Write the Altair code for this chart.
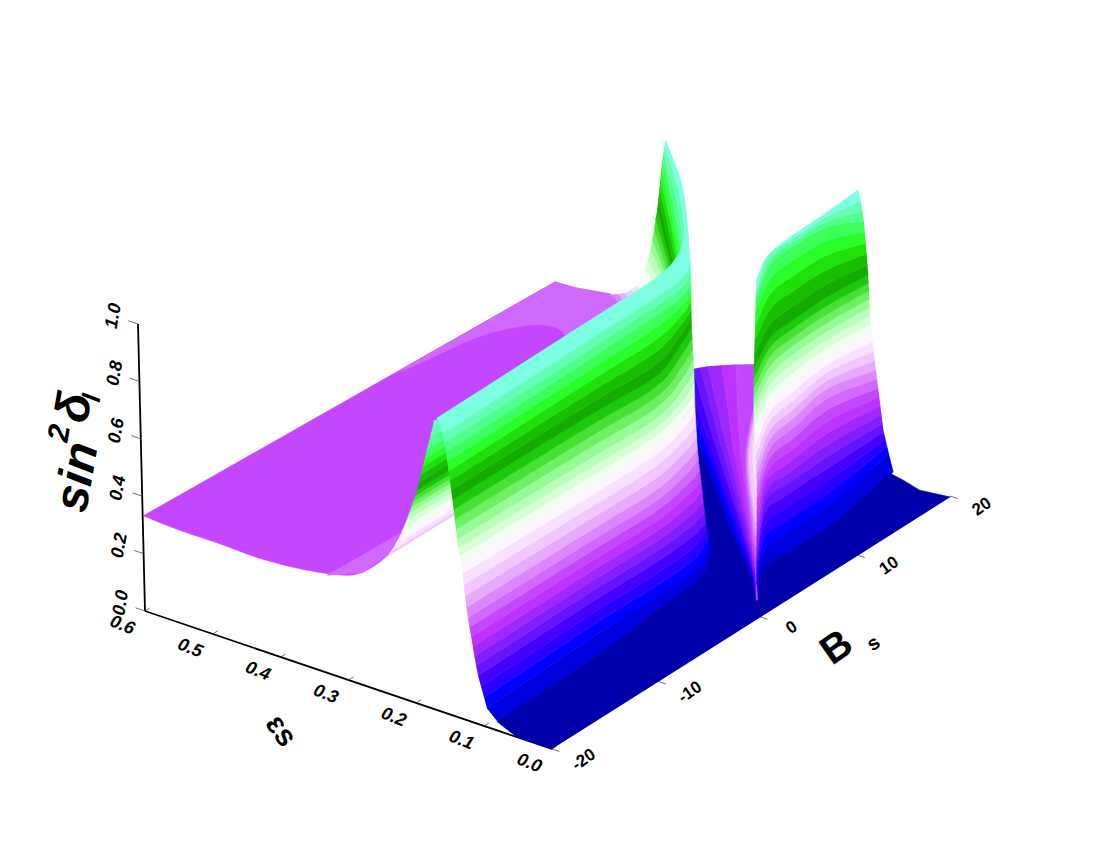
import altair as alt
import numpy as np
import pandas as pd

# ---- colour bands of the contour surface (31 levels from 0 to 1) ----
band_colors = ["#0000aa","#0000dc","#0000ff","#2800ff","#4600ff","#6414ff","#821eff","#a028ff","#be32ff","#c546ff",
 "#d069ff","#dc87ff","#e6aaff","#f0c8ff","#f8e1ff","#fff5ff","#f0fff0","#d7ffd7","#b9ffb9","#96fa96",
 "#6ef064","#46e132","#1ec80a","#14aa00","#19be00","#1ee10a","#28ff28","#3cff5a","#50ff8c","#64ffb4","#7dffe1"]
N = len(band_colors)

# ---- surface readings: sin^2 level, then B and epsilon along each contour ----
front_left_z = [0.03,0.06,0.17,0.37,0.5,0.6,0.75,0.9,0.97,1.0]
front_left_B = [[-20.0,-11.2,-4.1,1.0,3.8],[-20.0,-10.0,-3.7,0.5,3.6],[-19.8,-9.0,-2.8,1.0,2.9],[-19.9,-8.5,-2.2,1.6,3.6],
 [-19.3,-7.5,-1.1,2.5,4.3],[-19.8,-7.7,-1.4,2.4,5.0],[-19.7,-6.9,-0.8,3.7,5.6],[-19.8,-6.0,0.7,3.7,5.3],[-19.9,-5.9,0.7,3.6,5.6],[-19.5,-4.8,1.6,4.7,8.0]]
front_left_e = [[.080,.082,.094,.103,.127],[.095,.101,.100,.103,.126],[.113,.115,.113,.117,.122],[.126,.123,.121,.133,.143],
 [.143,.137,.137,.149,.157],[.141,.135,.132,.149,.168],[.150,.146,.141,.167,.180],[.157,.160,.162,.166,.176],[.160,.161,.162,.165,.181],[.175,.176,.176,.188,.218]]

front_right_z = [0.03,0.06,0.17,0.37,0.5,0.6,0.75,0.9,0.97,1.0]
front_right_B = [[19.6,11.4,6.3,4.1,1.6],[20.4,12.7,7.3,5.0,1.4],[19.4,13.7,9.3,6.3,0.7],[18.9,15.0,10.5,7.5,3.1],
 [18.8,14.5,10.3,7.3,3.3],[18.5,14.1,10.4,7.4,3.4],[17.8,13.8,10.0,7.4,3.6],[18.5,16.5,13.1,10.3,6.2],[18.6,15.6,11.9,8.8,5.2],[18.7,15.0,11.3,8.2,5.1]]
front_right_e = [[.078,.056,.057,.055,.026],[.095,.073,.071,.067,.025],[.090,.091,.089,.083,.015],[.093,.113,.100,.092,.049],
 [.098,.106,.098,.090,.055],[.097,.101,.099,.090,.058],[.090,.096,.094,.090,.060],[.105,.132,.136,.130,.094],[.111,.119,.119,.114,.079],[.116,.112,.110,.104,.078]]

valley_z = [1/31,4/31,7/31,9/31,10/31,13/31,16/31]
valley_B = [[21.7,14.6,8.0,3.5,0.7],[19.9,12.0,5.4,0.7,-2.2],[18.1,9.6,2.8,-2.0,-5.0],[17.3,8.1,1.0,-3.9,-6.9],
 [17.4,7.3,0.1,-4.8,-6.3],[14.5,4.5,-2.6,-6.4,-6.9],[11.5,1.9,-5.1,-8.0,-8.5]]
valley_e = [[.457,.296,.164,.068,.014],[.388,.242,.113,.022,-.028],[.330,.185,.063,-.022,-.070],[.278,.145,.031,-.051,-.097],
 [.237,.125,.015,-.067,-.090],[.190,.080,-.031,-.098,-.105],[.146,.028,-.082,-.130,-.137]]

peak_z = [0.33,0.36,0.43,0.5,0.6,0.75,0.9,1.0]
peak_B = [[19.0,18.6,18.2,17.6],[18.2,17.8,17.3,16.9],[16.7,16.3,15.9,15.3],[16.1,15.7,15.1,14.2],
 [16.4,15.5,14.1,12.6],[17.5,14.9,12.4,9.9],[17.9,13.8,10.2,6.6],[17.1,13.2,9.6,3.8]]
peak_e = [[.492,.476,.463,.449],[.471,.458,.444,.430],[.429,.417,.406,.391],[.401,.390,.373,.353],
 [.390,.369,.341,.313],[.392,.349,.306,.263],[.390,.321,.263,.207],[.374,.300,.242,.156]]

rear_z = [0.43,0.5,0.6,0.75,0.9,1.0]
rear_B = [[-20.3,-12.4],[-21.3,-13.4],[-22.2,-14.4],[-24.3,-16.5],[-25.3,-17.5],[-24.7,-16.9]]
rear_e = [[.262,.260],[.245,.243],[.231,.228],[.197,.195],[.180,.178],[.189,.187]]

plateau_B = [-19.4,19.1,19.2,19.8,17.5,1.0,-0.2,-7.9,-12.0,-15.3,-17.7,-18.7,-19.4,-19.7,-19.6,-19.6]
plateau_e = [.609,.567,.537,.496,.443,.440,.475,.386,.343,.316,.314,.331,.379,.434,.493,.552]
shelf_B = [2.7,18.4,18.6,19.2,16.8,11.4,12.9,12.8,13.4,13.0,11.2,8.9,4.6]
shelf_e = [.574,.558,.528,.487,.434,.435,.456,.464,.487,.511,.536,.552,.565]
foot_B = [-19.7,-18.3,-15.8,-13.1]
foot_e = [.335,.304,.307,.328]
floor_B = [-20.0,-20.0,-19.2,4.3,17.7,15.2,20.4,20.0,19.5,19.9]
floor_e = [.000,.052,.093,.151,.345,.192,.102,.069,.038,-.002]

# ---- axes ----
z_ticks = [0.0,0.2,0.4,0.6,0.8,1.0]
eps_ticks = [0.0,0.1,0.2,0.3,0.4,0.5,0.6]
B_ticks = [-20,-10,0,10,20]

# ---- camera: (B, epsilon, level) to the picture plane ----
def project(B, e, z):
    B, e, z = np.asarray(B, float), np.asarray(e, float), np.asarray(z, float)
    u = e / 0.6
    v = (B + 20) / 40
    w = v + 0.09 * v * (1 - v)
    return 552 - (407 + 7 * z) * u + 398 * w, 749 - 138 * u - 253 * w - 287 * z

def smooth(x, y, n=6):
    P = np.column_stack([x, y])
    if len(P) < 3:
        return np.asarray(x), np.asarray(y)
    Q = np.vstack([2 * P[0] - P[1], P, 2 * P[-1] - P[-2]])
    out = []
    for i in range(1, len(Q) - 2):
        for t in np.linspace(0, 1, n, endpoint=False):
            a, b, c, d = Q[i - 1], Q[i], Q[i + 1], Q[i + 2]
            out.append(0.5 * (2 * b + (c - a) * t + (2 * a - 5 * b + 4 * c - d) * t * t + (3 * b - a - 3 * c + d) * t ** 3))
    out.append(P[-1])
    out = np.array(out)
    return out[:, 0], out[:, 1]

def contour(zs, Bs, es, level):
    Bs, es = np.array(Bs), np.array(es)
    b = [np.interp(level, zs, Bs[:, j]) for j in range(Bs.shape[1])]
    e = [np.interp(level, zs, es[:, j]) for j in range(es.shape[1])]
    return smooth(*project(b, e, level))

polys = []
def add(x, y, color):
    polys.append(pd.DataFrame({"px": x, "py": y, "poly": len(polys), "paint": color, "seq": np.arange(len(x))}))

def bands(zs, Bs, es):
    for i in range(N):
        lo, hi = max(i / N, zs[0]), min((i + 1) / N, zs[-1])
        if hi <= lo:
            continue
        x0, y0 = contour(zs, Bs, es, lo)
        x1, y1 = contour(zs, Bs, es, hi)
        add(np.r_[x0, x1[::-1]], np.r_[y0, y1[::-1]], band_colors[i])

def outline(Bs, es, z, start):
    x, y = project(Bs, es, z)
    # the straight edges run up to "start"; the rest of the outline is a curve back to the first corner
    cx, cy = smooth(np.r_[x[start:], x[0]], np.r_[y[start:], y[0]])
    return np.r_[x[:start], cx], np.r_[y[:start], cy]

bands(rear_z, rear_B, rear_e)
add(*outline(plateau_B, plateau_e, 0.31, 7), band_colors[9])
add(*outline(shelf_B, shelf_e, 0.33, 6), band_colors[10])
add(*project(foot_B, foot_e, 0.33), band_colors[10])
bands(peak_z, peak_B, peak_e)
add(*project(floor_B, floor_e, 0.0), band_colors[0])
bands(valley_z, valley_B, valley_e)
bands(front_right_z, front_right_B, front_right_e)
bands(front_left_z, front_left_B, front_left_e)
surface = pd.concat(polys, ignore_index=True)

W, H = 1084, 834
X = alt.X("px:Q", axis=None, scale=alt.Scale(domain=[8, 8 + W], nice=False, zero=False))
Y = alt.Y("py:Q", axis=None, scale=alt.Scale(domain=[8 + H, 8], nice=False, zero=False))

surf = alt.Chart(surface).mark_line(strokeWidth=0.6, clip=True).encode(
    x=X, y=Y, detail="poly:N", order="seq:Q",
    fill=alt.Fill("paint:N", scale=None), stroke=alt.Stroke("paint:N", scale=None))

# axis lines
ax_rows, ax_id = [], 0
def seg(a, b):
    global ax_id
    for k, p in enumerate((a, b)):
        x, y = project(*p)
        ax_rows.append({"px": float(x), "py": float(y), "id": ax_id, "seq": k})
    ax_id += 1
seg((-20, 0.6, 0), (-20, 0.6, 1.0))
seg((-20, 0.6, 0), (-20, 0.0, 0))
axis_lines = alt.Chart(pd.DataFrame(ax_rows)).mark_line(color="#000000", strokeWidth=1.8).encode(
    x=X, y=Y, detail="id:N", order="seq:Q")

ax_rows, ax_id = [], 0
for t in z_ticks:
    seg((-20, 0.6, t), (-20, 0.614, t))
for t in eps_ticks:
    seg((-20, t, 0), (-19.55, t, 0))
for t in B_ticks:
    seg((t, 0, 0), (t, -0.011, 0))
tick_lines = alt.Chart(pd.DataFrame(ax_rows)).mark_line(color="#333333", strokeWidth=0.7).encode(
    x=X, y=Y, detail="id:N", order="seq:Q")

def labels(rows, **kw):
    d = []
    for txt, B, e, z, ang, size in rows:
        x, y = project(B, e, z)
        d.append({"px": float(x), "py": float(y), "t": txt, "a": ang, "s": size})
    return alt.Chart(pd.DataFrame(d)).mark_text(font="Liberation Sans", align="center", baseline="middle", color="#000000", **kw).encode(
        x=X, y=Y, text="t:N", angle=alt.Angle("a:Q", scale=None), size=alt.Size("s:Q", scale=None))

z_labels = labels([(f"{t:.1f}", -20, 0.635, t, 280, 18) for t in z_ticks], fontStyle="italic", fontWeight="bold")
eps_labels = labels([(f"{t:.1f}", -22.1, t, 0, 22, 18) for t in eps_ticks], fontStyle="italic", fontWeight="bold")
B_labels = labels([(str(t), t, -0.047, 0, 325, 17) for t in B_ticks], fontWeight="bold")
titles_plain = labels([("B", -0.5, -0.121, 0, 325, 40), ("s", 1.2, -0.150, 0, 325, 20), ("εs", -26.9, 0.288, 0, 55, 30)], fontWeight="bold")
titles_italic = labels([("sin", -20, 0.694, 0.391, 280, 48), ("2", -20, 0.719, 0.524, 280, 30),
                        ("δ", -20, 0.695, 0.632, 280, 48), ("l", -20, 0.67, 0.686, 280, 26)], fontStyle="italic", fontWeight="bold")

chart = alt.layer(axis_lines, tick_lines, surf, z_labels, eps_labels, B_labels, titles_plain, titles_italic).properties(
    width=W, height=H, padding=0, autosize=alt.AutoSizeParams(type="none"), background="white"
).configure_view(stroke=None)

chart.save("out.html", embed_options={"renderer": "svg", "actions": False})
